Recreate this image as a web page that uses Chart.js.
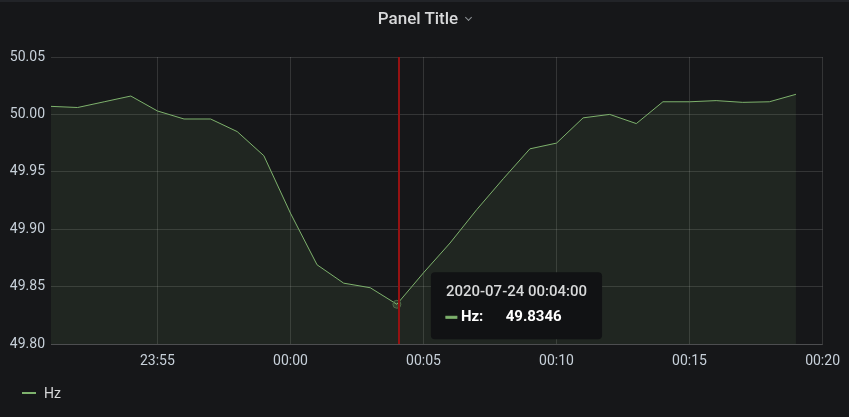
<!DOCTYPE html>
<html lang="en">
<head>
  <meta charset="UTF-8">
  <title>Panel Title</title>
  <script src="https://cdn.jsdelivr.net/npm/chart.js"></script>
  <style>
    body, html {
      margin: 0;
      padding: 0;
      background: #161719;
      font-family: Roboto, sans-serif;
    }

    #panel {
      position: relative;
      width: 849px;
      height: 417px;
      overflow: hidden;
    }

    .top-edge {
      position: absolute;
      left: 0;
      top: 0;
      width: 100%;
      height: 2px;
      background: #222428;
    }

    .panel-title {
      position: absolute;
      left: 0;
      top: 0;
      width: 100%;
      line-height: 37px;
      text-align: center;
      font-size: 17px;
      font-weight: 500;
      color: #d8d9da;
    }

    .chevron {
      display: inline-block;
      width: 4px;
      height: 4px;
      margin-left: 8px;
      border-right: 1.5px solid #8e9296;
      border-bottom: 1.5px solid #8e9296;
      transform: rotate(45deg);
      position: relative;
      top: -4px;
    }

    #legend {
      position: absolute;
      left: 22px;
      top: 384px;
      height: 18px;
      display: flex;
      align-items: center;
      font-size: 14px;
      color: #d8d9da;
    }

    .legend-dash {
      display: inline-block;
      width: 14px;
      height: 2px;
      margin-right: 8px;
    }
  </style>
</head>
<body>
  <div id="panel">
    <canvas id="hzChart" width="849" height="417"></canvas>
    <div class="top-edge"></div>
    <div class="panel-title">Panel Title<span class="chevron"></span></div>
    <div id="legend"></div>
  </div>

  <script>
    // one sample a minute
    var times = ['23:51', '23:52', '23:53', '23:54', '23:55', '23:56', '23:57', '23:58', '23:59',
                 '00:00', '00:01', '00:02', '00:03', '00:04', '00:05', '00:06', '00:07', '00:08', '00:09',
                 '00:10', '00:11', '00:12', '00:13', '00:14', '00:15', '00:16', '00:17', '00:18', '00:19'];
    var hzValues = [50.007, 50.006, 50.011, 50.016, 50.003, 49.996, 49.996, 49.985, 49.964,
                    49.914, 49.869, 49.853, 49.849, 49.8346, 49.862, 49.888, 49.917, 49.944, 49.970,
                    49.975, 49.997, 50.000, 49.992, 50.011, 50.011, 50.012, 50.0105, 50.011, 50.0175];
    var xTickLabels = ['23:55', '00:00', '00:05', '00:10', '00:15', '00:20'];
    var yTicks = [49.80, 49.85, 49.90, 49.95, 50.00, 50.05];
    var seriesName = 'Hz';
    var hoverIndex = 13;
    var hoverDate = '2020-07-24';
    var xStart = '23:51';
    var xEnd = '00:20';

    var lineColor = '#7eb26d';
    var gridColor = 'rgba(255,255,255,0.13)';
    var textColor = '#c7d0d9';

    // minutes relative to midnight, so 23:55 -> -5
    function toMinutes(t) {
      var parts = t.split(':').map(Number);
      var m = parts[0] * 60 + parts[1];
      return parts[0] >= 12 ? m - 1440 : m;
    }
    function fromMinutes(v) {
      var m = (Math.round(v) + 1440) % 1440;
      var h = Math.floor(m / 60), mm = m % 60;
      return (h < 10 ? '0' : '') + h + ':' + (mm < 10 ? '0' : '') + mm;
    }

    var points = [];
    for (var i = 0; i < times.length; i++) {
      points.push({ x: toMinutes(times[i]), y: hzValues[i] });
    }

    // legend below the graph
    var legend = document.getElementById('legend');
    var dash = document.createElement('span');
    dash.className = 'legend-dash';
    dash.style.background = lineColor;
    legend.appendChild(dash);
    legend.appendChild(document.createTextNode(seriesName));

    // tooltip box sits to the right of the hovered point, like grafana
    Chart.Tooltip.positioners.grafana = function(items) {
      if (!items.length) return false;
      var el = items[0].element;
      return { x: el.x + 38, y: el.y - 32, xAlign: 'left', yAlign: 'top' };
    };

    // red hover line
    var crosshair = {
      id: 'crosshair',
      afterDatasetsDraw: function(chart) {
        var meta = chart.getDatasetMeta(0);
        var el = meta.data[hoverIndex];
        var area = chart.chartArea;
        var ctx = chart.ctx;
        var x = Math.round(el.x + 2);
        ctx.save();
        ctx.globalAlpha = 1;
        ctx.strokeStyle = 'rgb(150,18,18)';
        ctx.lineWidth = 2;
        ctx.beginPath();
        ctx.moveTo(x, area.top);
        ctx.lineTo(x, area.bottom);
        ctx.stroke();
        ctx.restore();
      }
    };

    var ctx = document.getElementById('hzChart').getContext('2d');
    var hzChart = new Chart(ctx, {
      type: 'line',
      data: {
        datasets: [{
          label: seriesName,
          data: points,
          borderColor: lineColor,
          backgroundColor: 'rgba(126,178,109,0.1)',
          borderWidth: 1,
          fill: 'start',
          tension: 0,
          pointRadius: 0,
          pointHoverRadius: 4,
          pointHoverBorderWidth: 1,
          pointHoverBackgroundColor: 'rgba(126,178,109,0.2)',
          pointHoverBorderColor: '#4f6a48'
        }]
      },
      options: {
        responsive: false,
        animation: false,
        events: [],
        layout: {
          padding: { top: 57, left: 0, right: 25, bottom: 36 }
        },
        scales: {
          x: {
            type: 'linear',
            min: toMinutes(xStart),
            max: toMinutes(xEnd),
            afterBuildTicks: function(scale) {
              scale.ticks = xTickLabels.map(function(t) { return { value: toMinutes(t) }; });
            },
            afterFit: function(scale) { scale.height = 37; },
            grid: { color: gridColor, drawTicks: false },
            border: { color: gridColor },
            ticks: {
              color: textColor,
              padding: 9,
              maxRotation: 0,
              font: { family: 'Roboto', size: 14 },
              callback: function(v) { return fromMinutes(v); }
            }
          },
          y: {
            min: yTicks[0],
            max: yTicks[yTicks.length - 1],
            afterBuildTicks: function(scale) {
              scale.ticks = yTicks.map(function(v) { return { value: v }; });
            },
            afterFit: function(scale) { scale.width = 51; },
            grid: { color: gridColor, drawTicks: false },
            border: { display: false },
            ticks: {
              color: textColor,
              padding: 6,
              font: { family: 'Roboto', size: 14 },
              callback: function(v) { return v.toFixed(2); }
            }
          }
        },
        plugins: {
          legend: { display: false },
          tooltip: {
            position: 'grafana',
            backgroundColor: '#111214',
            cornerRadius: 4,
            caretSize: 0,
            caretPadding: 0,
            padding: { top: 11, bottom: 13, left: 15, right: 15 },
            titleColor: '#d8d9da',
            titleFont: { family: 'Roboto', size: 15, weight: '500' },
            titleMarginBottom: 7,
            bodyColor: '#ffffff',
            bodyFont: { family: 'Roboto', size: 15, weight: 'bold' },
            boxWidth: 11,
            boxHeight: 2,
            boxPadding: 2,
            multiKeyBackground: lineColor,
            callbacks: {
              title: function(items) {
                return hoverDate + ' ' + times[items[0].dataIndex] + ':00';
              },
              label: function(item) {
                return seriesName + ':      ' + item.parsed.y.toFixed(4);
              },
              labelColor: function() {
                return { borderColor: lineColor, backgroundColor: lineColor, borderWidth: 0 };
              }
            }
          }
        }
      },
      plugins: [crosshair]
    });

    // show the hover state at 00:04
    var active = [{ datasetIndex: 0, index: hoverIndex }];
    var hoverEl = hzChart.getDatasetMeta(0).data[hoverIndex];
    hzChart.setActiveElements(active);
    hzChart.tooltip.setActiveElements(active, { x: hoverEl.x, y: hoverEl.y });
    hzChart.update();
  </script>
</body>
</html>
